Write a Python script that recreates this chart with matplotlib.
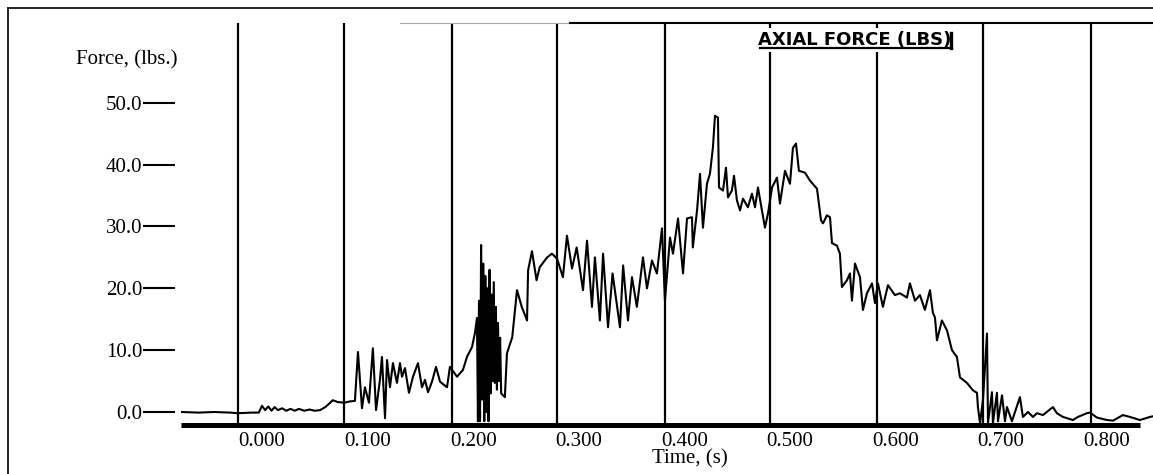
import matplotlib
matplotlib.use('Agg')
import matplotlib.pyplot as plt
from matplotlib.lines import Line2D

# axial force trace
time_s = [
    -0.077, -0.060, -0.045, -0.030, -0.023, -0.010, -0.003, 0.000, 0.003, 0.006,
    0.009, 0.012, 0.015, 0.019, 0.023, 0.027, 0.031, 0.035, 0.040, 0.045,
    0.050, 0.055, 0.060, 0.064, 0.067, 0.072, 0.078, 0.083, 0.088, 0.0909,
    0.0947, 0.0975, 0.1013, 0.105, 0.108, 0.1117, 0.1136, 0.1165, 0.1184, 0.1212,
    0.124, 0.1278, 0.1307, 0.1326, 0.1354, 0.1392, 0.143, 0.1477, 0.1515, 0.1544,
    0.1572, 0.161, 0.1648, 0.1686, 0.1752, 0.178, 0.1847, 0.1903, 0.1941, 0.1989,
    0.2017, 0.2036, 0.2045, 0.2055, 0.2065, 0.2075, 0.2085, 0.2095, 0.2105, 0.2115,
    0.2125, 0.2135, 0.2145, 0.2155, 0.2165, 0.2175, 0.2185, 0.2195, 0.2205, 0.2215,
    0.2225, 0.2235, 0.2245, 0.2255, 0.2265, 0.230, 0.232, 0.237, 0.2415, 0.246,
    0.251, 0.252, 0.2557, 0.260, 0.263, 0.270, 0.2746, 0.2794, 0.285, 0.2888,
    0.2936, 0.298, 0.304, 0.3078, 0.3125, 0.3153, 0.320, 0.323, 0.3277, 0.332,
    0.339, 0.342, 0.3466, 0.3504, 0.355, 0.3608, 0.3646, 0.3693, 0.374, 0.3788,
    0.3816, 0.3864, 0.3892, 0.394, 0.3987, 0.4025, 0.4072, 0.408, 0.412, 0.4148,
    0.4176, 0.4214, 0.4242, 0.427, 0.429, 0.4318, 0.4328, 0.4366, 0.4394, 0.4413,
    0.445, 0.447, 0.4498, 0.4527, 0.4555, 0.4602, 0.464, 0.4669, 0.4697, 0.4735,
    0.4763, 0.4792, 0.483, 0.4877, 0.4905, 0.4953, 0.500, 0.5028, 0.5057, 0.5085,
    0.5142, 0.519, 0.5256, 0.5294, 0.5313, 0.535, 0.5379, 0.5398, 0.5445, 0.5473,
    0.5492, 0.554, 0.5568, 0.5587, 0.5616, 0.5663, 0.5691, 0.5729, 0.5777, 0.5805,
    0.5833, 0.588, 0.5928, 0.5994, 0.6042, 0.6108, 0.6136, 0.6184, 0.6231, 0.6278,
    0.6326, 0.6354, 0.6373, 0.6392, 0.6439, 0.6487, 0.6534, 0.6581, 0.661, 0.6676,
    0.6733, 0.6771, 0.678, 0.680, 0.6828, 0.6866, 0.6875, 0.6913, 0.6922, 0.696,
    0.697, 0.7008, 0.7036, 0.7055, 0.7102, 0.7178, 0.7206, 0.7254, 0.7301, 0.7339,
    0.7396, 0.749, 0.7528, 0.7585, 0.768, 0.7727, 0.7812, 0.7841, 0.7907, 0.8002,
    0.8059, 0.8153, 0.822, 0.8314, 0.8409, 0.8438,
]
force_lbs = [
    0.0, -0.1, 0.0, -0.1, -0.2, -0.1, -0.1, 1.0, 0.3, 0.9,
    0.2, 0.8, 0.3, 0.6, 0.2, 0.5, 0.2, 0.5, 0.2, 0.4,
    0.2, 0.3, 0.8, 1.4, 1.9, 1.6, 1.5, 1.7, 1.8, 9.7,
    0.6, 4.0, 1.5, 10.3, 0.3, 5.2, 8.9, -1.0, 8.4, 4.0,
    7.9, 4.7, 7.9, 5.7, 7.1, 3.1, 5.7, 7.9, 4.0, 5.2,
    3.2, 4.9, 7.3, 4.9, 4.0, 7.3, 5.7, 6.8, 8.9, 10.5,
    12.8, 15.2, -1.5, 18.0, -1.5, 27.0, 2.0, 24.0, -1.5, 22.0,
    0.0, 20.0, -1.5, 23.0, 3.0, 19.0, 5.0, 21.0, 4.7, 17.0,
    3.6, 14.4, 5.0, 12.0, 3.0, 2.4, 9.5, 12.1, 19.7, 17.0,
    14.8, 22.9, 26.0, 21.3, 23.4, 25.0, 25.6, 24.8, 21.8, 28.5,
    23.2, 26.6, 19.7, 27.7, 17.0, 25.0, 14.8, 25.6, 13.7, 22.4,
    13.7, 23.7, 14.8, 21.8, 17.0, 25.0, 20.0, 24.5, 22.4, 29.7,
    18.0, 28.2, 25.6, 31.3, 22.4, 31.3, 31.5, 26.6, 32.6, 38.5,
    29.8, 36.9, 38.5, 42.7, 47.9, 47.6, 36.3, 35.8, 39.5, 34.7,
    35.8, 38.2, 34.2, 32.6, 34.5, 33.1, 35.3, 33.1, 36.3, 32.6,
    29.8, 32.1, 36.3, 37.9, 33.7, 39.0, 36.9, 42.7, 43.4, 39.0,
    38.7, 37.4, 36.1, 31.0, 30.5, 31.8, 31.5, 27.3, 26.9, 25.6,
    20.2, 21.3, 22.4, 18.0, 24.0, 21.8, 16.5, 19.2, 20.8, 17.6,
    20.8, 17.0, 20.5, 18.9, 19.2, 18.5, 20.8, 18.0, 18.9, 16.5,
    19.7, 16.0, 15.3, 11.6, 14.8, 13.2, 10.0, 8.9, 5.6, 4.7,
    3.5, 3.1, 0.8, -1.8, 2.0, 12.7, -1.8, 3.2, -1.8, 3.1,
    -1.5, 2.7, -1.5, 0.8, -1.5, 2.4, -0.8, 0.0, -0.8, -0.2,
    -0.5, 0.8, -0.2, -0.8, -1.3, -0.8, -0.2, -0.1, -0.9, -1.3,
    -1.4, -0.5, -0.8, -1.3, -0.8, -0.7,
]

# time marks printed on the strip (vertical lines)
mark_times = [-0.0227, 0.0777, 0.1799, 0.2794, 0.3816, 0.4811, 0.5824, 0.6828, 0.785]
x_ticks = [0.0, 0.1, 0.2, 0.3, 0.4, 0.5, 0.6, 0.7, 0.8]
x_labels = ['0.000', '0.100', '0.200', '0.300', '0.400', '0.500', '0.600', '0.700', '0.800']
y_ticks = [0.0, 10.0, 20.0, 30.0, 40.0, 50.0]
y_labels = ['0.0', '10.0', '20.0', '30.0', '40.0', '50.0']
baseline = -2.1

serif = 'Liberation Serif'

fig = plt.figure(figsize=(11.53, 4.74), dpi=100)
ax = fig.add_axes([181 / 1153, 1 - 428 / 474, 972 / 1153, 405 / 474])
ax.set_xlim(-0.0767, 0.8438)
ax.set_ylim(-2.59, 62.9)

ax.plot(time_s, force_lbs, color='black', lw=1.5, zorder=3)
ax.vlines(mark_times, baseline, 62.9, color='black', lw=1.6, zorder=2)
ax.plot([-0.0767, 0.8314], [baseline, baseline], color='black', lw=3.6,
        solid_capstyle='butt', zorder=4)

# top border of the strip
ax.plot([0.2253, 0.40], [1.0, 1.0], color='#aaaaaa', lw=0.8, transform=ax.transAxes, clip_on=False)
ax.plot([0.40, 1.0], [1.0, 1.0], color='black', lw=1.5, transform=ax.transAxes, clip_on=False)

for s in ax.spines.values():
    s.set_visible(False)
ax.spines['left'].set_position(('outward', 4.3))

ax.set_yticks(y_ticks)
ax.set_yticklabels(y_labels, fontfamily=serif, fontsize=15)
ax.tick_params(axis='y', length=23, width=1.5, pad=0.5)
ax.set_xticks(x_ticks)
ax.set_xticklabels(x_labels, fontfamily=serif, fontsize=15)
ax.tick_params(axis='x', length=0, pad=3)

# chart title box
ax.text(0.6934, 0.958, 'AXIAL FORCE (LBS)', transform=ax.transAxes, ha='center', va='center',
        fontsize=13, fontweight='bold', family='DejaVu Sans', zorder=5,
        bbox=dict(facecolor='white', edgecolor='none', pad=2))
ax.plot([0.5957, 0.7932], [0.938, 0.938], color='black', lw=1.6, transform=ax.transAxes,
        clip_on=False, zorder=6)
ax.plot([0.7922, 0.7922], [0.938, 0.975], color='black', lw=2.4, transform=ax.transAxes,
        clip_on=False, zorder=6)

fig.text(127 / 1153, 1 - 60 / 474, 'Force, (lbs.)', ha='center', va='center',
         fontfamily=serif, fontsize=15)
fig.text(690 / 1153, 1 - 459 / 474, 'Time, (s)', ha='center', va='center',
         fontfamily=serif, fontsize=15)

# outer frame (left and top edges only)
fig.add_artist(Line2D([8 / 1153, 8 / 1153], [0, 1 - 8 / 474], color='#222222', lw=1.4))
fig.add_artist(Line2D([8 / 1153, 1], [1 - 8 / 474, 1 - 8 / 474], color='#222222', lw=1.4))

fig.savefig('out.png', dpi=100)
